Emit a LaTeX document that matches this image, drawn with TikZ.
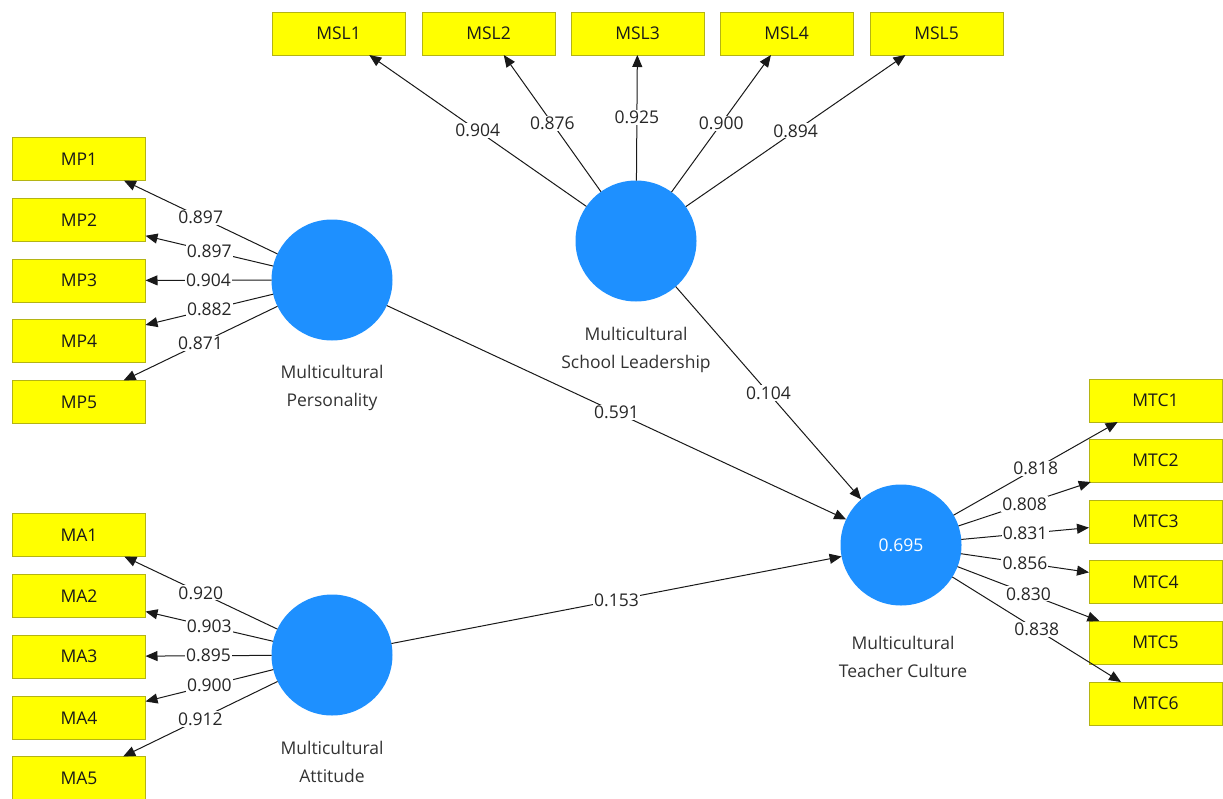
\documentclass[tikz,border=0pt]{standalone}
\usepackage{fontspec}
\setmainfont{Open Sans}
\usetikzlibrary{arrows.meta}
\definecolor{boxyellow}{RGB}{255,255,0}
\definecolor{boxedge}{RGB}{180,180,20}
\definecolor{lvblue}{RGB}{30,144,255}
\definecolor{labgray}{RGB}{50,50,50}
\tikzset{
  ind/.style={draw=boxedge, fill=boxyellow, line width=0.8pt, minimum width=133pt, minimum height=43pt, inner sep=0pt, outer sep=0pt, font=\fontsize{17.5}{18}\selectfont, text=black!90},
  lv/.style={circle, fill=lvblue, minimum size=121pt, inner sep=0pt, outer sep=0pt, text=white, font=\fontsize{17.5}{18}\selectfont},
  arr/.style={-{Triangle[length=12pt,width=10pt]}, line width=1pt, black!90},
  lbl/.style={fill=white, inner sep=1.2pt, font=\fontsize{17.5}{18}\selectfont, text=black!85},
  clab/.style={anchor=north, align=center, inner sep=0pt, text=labgray, font=\fontsize{17.5}{28}\selectfont},
}
\begin{document}
\begin{tikzpicture}[x=1pt, y=-1pt]
\useasboundingbox (0,0) rectangle (1223,798);
% latent variables
\node[lv] (mp) at (332,280) {};
\node[lv] (msl) at (636,241) {};
\node[lv] (ma) at (332,655) {};
\node[lv] (mtc) at (901,545) {0.695};
% circle captions
\node[clab] (mpc) at (332,365) {Multicultural\\Personality};
\node[clab] (mslc) at (636,327) {Multicultural\\School Leadership};
\node[clab] (mac) at (332,741) {Multicultural\\Attitude};
\node[clab] (mtcc) at (903,636) {Multicultural\\Teacher Culture};
% indicators MSL
\node[ind] (msl1) at (338.5,33.5) {MSL1};
\node[ind] (msl2) at (488.5,33.5) {MSL2};
\node[ind] (msl3) at (637.5,33.5) {MSL3};
\node[ind] (msl4) at (786.5,33.5) {MSL4};
\node[ind] (msl5) at (936.5,33.5) {MSL5};
% indicators MP
\node[ind] (mp1) at (79,159) {MP1};
\node[ind] (mp2) at (79,220) {MP2};
\node[ind] (mp3) at (79,280.5) {MP3};
\node[ind] (mp4) at (79,341) {MP4};
\node[ind] (mp5) at (79,402) {MP5};
% indicators MA
\node[ind] (ma1) at (79,535) {MA1};
\node[ind] (ma2) at (79,596) {MA2};
\node[ind] (ma3) at (79,656.5) {MA3};
\node[ind] (ma4) at (79,718) {MA4};
\node[ind] (ma5) at (79,778) {MA5};
% indicators MTC
\node[ind] (mtc1) at (1155.5,400.5) {MTC1};
\node[ind] (mtc2) at (1155.5,460.5) {MTC2};
\node[ind] (mtc3) at (1155.5,521.5) {MTC3};
\node[ind] (mtc4) at (1155.5,582) {MTC4};
\node[ind] (mtc5) at (1155.5,642.5) {MTC5};
\node[ind] (mtc6) at (1155.5,703.5) {MTC6};
% loadings MSL
\draw[arr] (msl) -- node[lbl] {0.904} (msl1);
\draw[arr] (msl) -- node[lbl] {0.876} (msl2);
\draw[arr] (msl) -- node[lbl] {0.925} (msl3);
\draw[arr] (msl) -- node[lbl] {0.900} (msl4);
\draw[arr] (msl) -- node[lbl] {0.894} (msl5);
% loadings MP
\draw[arr] (mp) -- node[lbl] {0.897} (mp1);
\draw[arr] (mp) -- node[lbl] {0.897} (mp2);
\draw[arr] (mp) -- node[lbl] {0.904} (mp3);
\draw[arr] (mp) -- node[lbl] {0.882} (mp4);
\draw[arr] (mp) -- node[lbl] {0.871} (mp5);
% loadings MA
\draw[arr] (ma) -- node[lbl] {0.920} (ma1);
\draw[arr] (ma) -- node[lbl] {0.903} (ma2);
\draw[arr] (ma) -- node[lbl] {0.895} (ma3);
\draw[arr] (ma) -- node[lbl] {0.900} (ma4);
\draw[arr] (ma) -- node[lbl] {0.912} (ma5);
% loadings MTC
\draw[arr] (mtc) -- node[lbl] {0.818} (mtc1);
\draw[arr] (mtc) -- node[lbl] {0.808} (mtc2);
\draw[arr] (mtc) -- node[lbl] {0.831} (mtc3);
\draw[arr] (mtc) -- node[lbl] {0.856} (mtc4);
\draw[arr] (mtc) -- node[lbl] {0.830} (mtc5);
\draw[arr] (mtc) -- node[lbl] {0.838} (mtc6);
% structural paths
\draw[arr] (mp) -- node[lbl] {0.591} (mtc);
\draw[arr] (msl) -- node[lbl] {0.104} (mtc);
\draw[arr] (ma) -- node[lbl] {0.153} (mtc);
\end{tikzpicture}
\end{document}
